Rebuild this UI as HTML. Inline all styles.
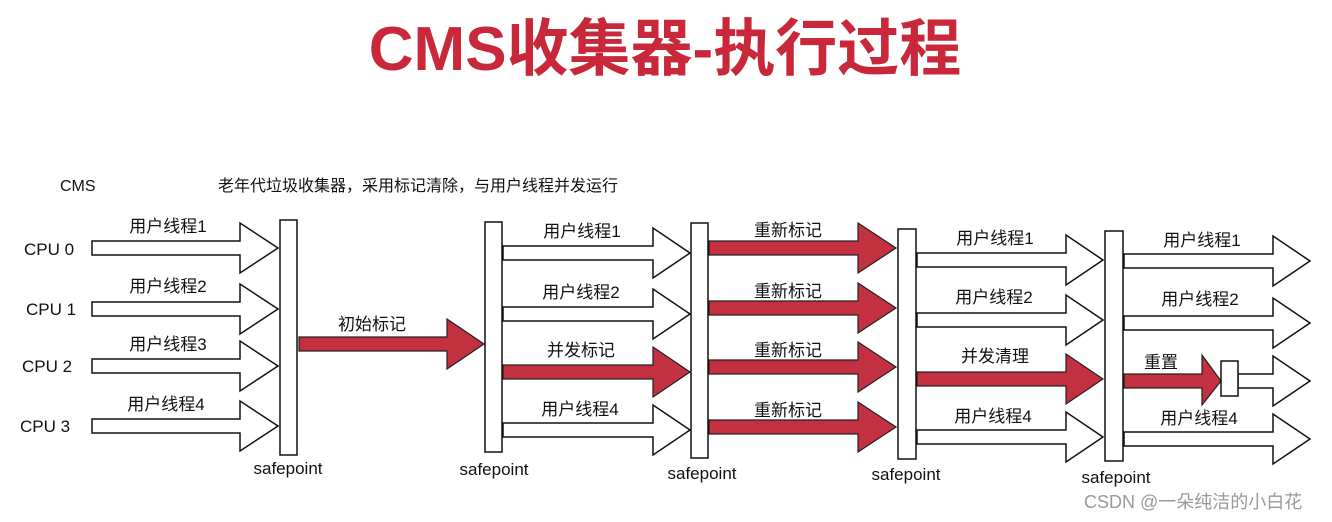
<!DOCTYPE html>
<html><head><meta charset="utf-8"><style>
html,body{margin:0;padding:0;background:#fff;}
svg{display:block}
text{font-family:"Liberation Sans","Noto Sans CJK SC",sans-serif;fill:#111}
</style></head><body>
<svg width="1332" height="522" viewBox="0 0 1332 522" xmlns="http://www.w3.org/2000/svg">
<text x="665" y="70" text-anchor="middle" font-size="62" font-weight="bold" style="fill:#c8283a" font-family="Liberation Sans, Noto Sans CJK SC, sans-serif">CMS收集器-执行过程</text>
<text x="60" y="191" font-size="16">CMS</text>
<text x="218" y="191" font-size="16">老年代垃圾收集器，采用标记清除，与用户线程并发运行</text>
<g font-size="17">
<text x="24" y="255">CPU 0</text><text x="26" y="315">CPU 1</text><text x="22" y="372">CPU 2</text><text x="20" y="432">CPU 3</text>
</g>
<g fill="#fff" stroke="#111" stroke-width="1.5">
<polygon points="92,241 240,241 240,223 278,248 240,273 240,255 92,255"/>
<polygon points="92,302 240,302 240,284 278,309 240,334 240,316 92,316"/>
<polygon points="92,359 240,359 240,341 278,366 240,391 240,373 92,373"/>
<polygon points="92,419 240,419 240,401 278,426 240,451 240,433 92,433"/>
<polygon points="503,246 653,246 653,228 690,253 653,278 653,260 503,260"/>
<polygon points="503,307 653,307 653,289 690,314 653,339 653,321 503,321"/>
<polygon points="503,423 653,423 653,405 690,430 653,455 653,437 503,437"/>
<polygon points="917,253 1066,253 1066,235 1103,260 1066,285 1066,267 917,267"/>
<polygon points="917,313 1066,313 1066,295 1103,320 1066,345 1066,327 917,327"/>
<polygon points="917,430 1066,430 1066,412 1103,437 1066,462 1066,444 917,444"/>
<polygon points="1124,254 1273,254 1273,236 1310,261 1273,286 1273,268 1124,268"/>
<polygon points="1124,316 1273,316 1273,298 1310,323 1273,348 1273,330 1124,330"/>
<polygon points="1238,374 1273,374 1273,356 1310,381 1273,406 1273,388 1238,388"/>
<polygon points="1124,432 1273,432 1273,414 1310,439 1273,464 1273,446 1124,446"/>
</g>
<g fill="#c3303f" stroke="#222" stroke-width="1.2">
<polygon points="299,337 447,337 447,319 484,344 447,369 447,351 299,351"/>
<polygon points="503,365 653,365 653,347 690,372 653,397 653,379 503,379"/>
<polygon points="709,241 858,241 858,223 896,248 858,273 858,255 709,255"/>
<polygon points="709,301 858,301 858,283 896,308 858,333 858,315 709,315"/>
<polygon points="709,360 858,360 858,342 896,367 858,392 858,374 709,374"/>
<polygon points="709,420 858,420 858,402 896,427 858,452 858,434 709,434"/>
<polygon points="917,372 1066,372 1066,354 1103,379 1066,404 1066,386 917,386"/>
<polygon points="1124,374 1202,374 1202,355 1221,381 1202,405 1202,388 1124,388"/>
</g>
<g fill="#fff" stroke="#111" stroke-width="1.5">
<rect x="280" y="220" width="17" height="235"/>
<rect x="485" y="222" width="17" height="230"/>
<rect x="691" y="223" width="17" height="235"/>
<rect x="898" y="229" width="18" height="230"/>
<rect x="1105" y="231" width="18" height="230"/>
<rect x="1221" y="361" width="17" height="35"/>
</g>
<g font-size="17" text-anchor="middle">
<text x="168" y="232">用户线程1</text><text x="168" y="292">用户线程2</text><text x="168" y="350">用户线程3</text><text x="166" y="410">用户线程4</text>
<text x="372" y="330">初始标记</text>
<text x="582" y="237">用户线程1</text><text x="581" y="298">用户线程2</text><text x="581" y="356">并发标记</text><text x="580" y="415">用户线程4</text>
<text x="788" y="236">重新标记</text><text x="788" y="297">重新标记</text><text x="788" y="356">重新标记</text><text x="788" y="416">重新标记</text>
<text x="995" y="244">用户线程1</text><text x="994" y="303">用户线程2</text><text x="995" y="362">并发清理</text><text x="993" y="422">用户线程4</text>
<text x="1202" y="246">用户线程1</text><text x="1200" y="305">用户线程2</text><text x="1161" y="368">重置</text><text x="1199" y="424">用户线程4</text>
<text x="288" y="474">safepoint</text><text x="494" y="475">safepoint</text><text x="702" y="479">safepoint</text><text x="906" y="480">safepoint</text><text x="1116" y="483">safepoint</text>
</g>
<text x="1084" y="508" font-size="18" style="fill:#999">CSDN @一朵纯洁的小白花</text>
</svg>
</body></html>
